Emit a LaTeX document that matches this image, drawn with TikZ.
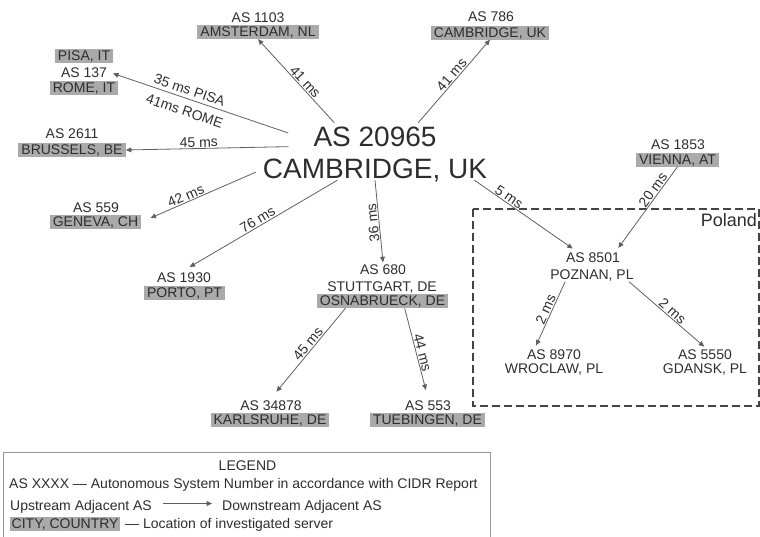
\documentclass[tikz,border=0pt]{standalone}
\usepackage{fontspec}
\setmainfont{Liberation Sans}
\usetikzlibrary{arrows.meta}
\definecolor{ink}{RGB}{45,45,45}
\definecolor{edge}{RGB}{95,95,95}
\definecolor{boxgray}{RGB}{170,170,170}
\definecolor{frame}{RGB}{68,68,68}
\definecolor{legframe}{RGB}{150,150,150}

\begin{document}
\begin{tikzpicture}[x=1pt,y=-1pt,
  txt/.style={font=\fontsize{14}{16}\selectfont, text=ink, text height=10pt, text depth=1pt, inner xsep=3pt, inner ysep=1.5pt},
  city/.style={txt, fill=boxgray},
  big/.style={font=\fontsize{28}{32}\selectfont, text=ink, text height=20pt, text depth=0pt},
  conn/.style={draw=edge, line width=0.8pt},
  tip/.style={-{Triangle[length=5.5pt,width=4.8pt]}},
  tipstart/.style={{Triangle[length=5.5pt,width=4.8pt]}-},
  lab/.style={font=\fontsize{14}{16}\selectfont, text=ink, text height=10pt, text depth=0pt, inner sep=1pt, sloped},
]
\useasboundingbox (0,0) rectangle (760,536);
\clip (0,0) rectangle (760,536);

% central AS
\node[big, inner xsep=25pt, inner ysep=3pt] (mainas) at (375,136) {AS 20965};
\node[big, inner xsep=7pt, inner ysep=2pt] (maincity) at (375,168) {CAMBRIDGE, UK};

% neighbouring ASes
\node[txt] (as1103) at (258,17.5) {AS 1103};
\node[city] (ams) at (258,32) {AMSTERDAM, NL};
\node[txt] (as786) at (491,16.5) {AS 786};
\node[city] (camuk) at (490,32.5) {CAMBRIDGE, UK};
\node[city] (pisa) at (84,56) {PISA, IT};
\node[txt] (as137) at (84,72.5) {AS 137};
\node[city] (rome) at (84,87.5) {ROME, IT};
\node[txt] (as2611) at (72,133.5) {AS 2611};
\node[city] (brussels) at (72,150) {BRUSSELS, BE};
\node[txt] (as559) at (96,207.5) {AS 559};
\node[city] (geneva) at (95.5,222) {GENEVA, CH};
\node[txt] (as1930) at (184,277.5) {AS 1930};
\node[city] (porto) at (184.5,293) {PORTO, PT};
\node[txt] (as680) at (383,269.5) {AS 680};
\node[txt] (stuttgart) at (382,286.5) {STUTTGART, DE};
\node[city] (osna) at (382.5,301) {OSNABRUECK, DE};
\node[txt] (as34878) at (271,405.5) {AS 34878};
\node[city] (karlsruhe) at (270,420) {KARLSRUHE, DE};
\node[txt] (as553) at (428,405.5) {AS 553};
\node[city] (tuebingen) at (427.5,420) {TUEBINGEN, DE};
\node[txt] (as1853) at (678,144.5) {AS 1853};
\node[city] (vienna) at (677.5,159.5) {VIENNA, AT};
\node[txt] (as8501) at (593,257.5) {AS 8501};
\node[txt] (poznan) at (592,274.5) {POZNAN, PL};
\node[txt] (as8970) at (554,354.5) {AS 8970};
\node[txt] (wroclaw) at (554,368.5) {WROCLAW, PL};
\node[txt] (as5550) at (705,354.5) {AS 5550};
\node[txt] (gdansk) at (705,368.5) {GDANSK, PL};

% Poland region
\draw[frame, line width=2pt, dash pattern=on 8pt off 4pt] (473,209) rectangle (759,406);
\node[font=\fontsize{18}{20}\selectfont, text=ink, anchor=base east, inner sep=0pt] (poland) at (757,226) {Poland};

% links with delays
\draw[conn, tip] (mainas.162.8) -- node[lab, above, pos=.44] {41 ms} (ams.south);
\draw[conn, tip] (mainas.17.2) -- node[lab, above, pos=.53] {41 ms} (camuk.south);
\draw[conn, tip, shorten >=3pt] (mainas.178.7) --
  node[lab, above=2.5pt, pos=.57] {35 ms PISA}
  node[lab, below=6pt, pos=.56] {41ms ROME} (as137.east);
\draw[conn, tip] (mainas.187.2) -- node[lab, above, pos=.55] {45 ms} (brussels.east);
\draw[conn, tip, shorten >=10pt] (maincity.182.9) -- node[lab, above, pos=.59] {42 ms} (geneva.east);
\draw[conn, tip, shorten >=6.5pt] (maincity.198) -- node[lab, above, pos=.5] {76 ms} (as1930.north);
\draw[conn, tipstart, allow upside down] (as680.north) -- node[lab, above, pos=.49] {36 ms} (maincity.south);
\draw[conn, tip, shorten >=3pt] (maincity.353.2) -- node[lab, above, pos=.31] {5 ms} (as8501.158.7);
\draw[conn, tip, shorten >=3pt] (vienna.south) -- node[lab, above, pos=.32] {20 ms} (as8501.17.6);
\draw[conn, tip, shorten >=2pt] (poznan.195.6) -- node[lab, above, pos=.46] {2 ms} (as8970.159.8);
\draw[conn, tip, shorten >=1pt] (poznan.-11) -- node[lab, above, pos=.52] {2 ms} (as5550.north);
\draw[conn, tip, shorten >=8.5pt] (osna.191.2) -- node[lab, above, pos=.44] {45 ms} (as34878.north);
\draw[conn, tip, shorten >=8.5pt] (osna.-18.9) -- node[lab, above, pos=.51] {44 ms} (as553.north);

% legend
\draw[legframe, line width=0.8pt] (3,452) rectangle (490,560);
\node[txt, inner sep=0pt] (legtitle) at (247.5,466) {LEGEND};
\node[txt, anchor=base west, inner sep=0pt] (legas) at (9,488) {AS XXXX — Autonomous System Number in accordance with CIDR Report};
\node[txt, anchor=base west, inner sep=0pt] (legup) at (10,510) {Upstream Adjacent AS};
\node[txt, anchor=base west, inner sep=0pt] (legdown) at (222,510) {Downstream Adjacent AS};
\draw[conn, tip, shorten <=11pt, shorten >=10pt] ([yshift=2pt]legup.east) -- ([yshift=2pt]legdown.west);
\node[city, anchor=west, inner xsep=1.5pt] (legcity) at (10,523.5) {CITY, COUNTRY};
\node[txt, anchor=base west, inner sep=0pt] (legloc) at (125,528) {— Location of investigated server};
\end{tikzpicture}
\end{document}
